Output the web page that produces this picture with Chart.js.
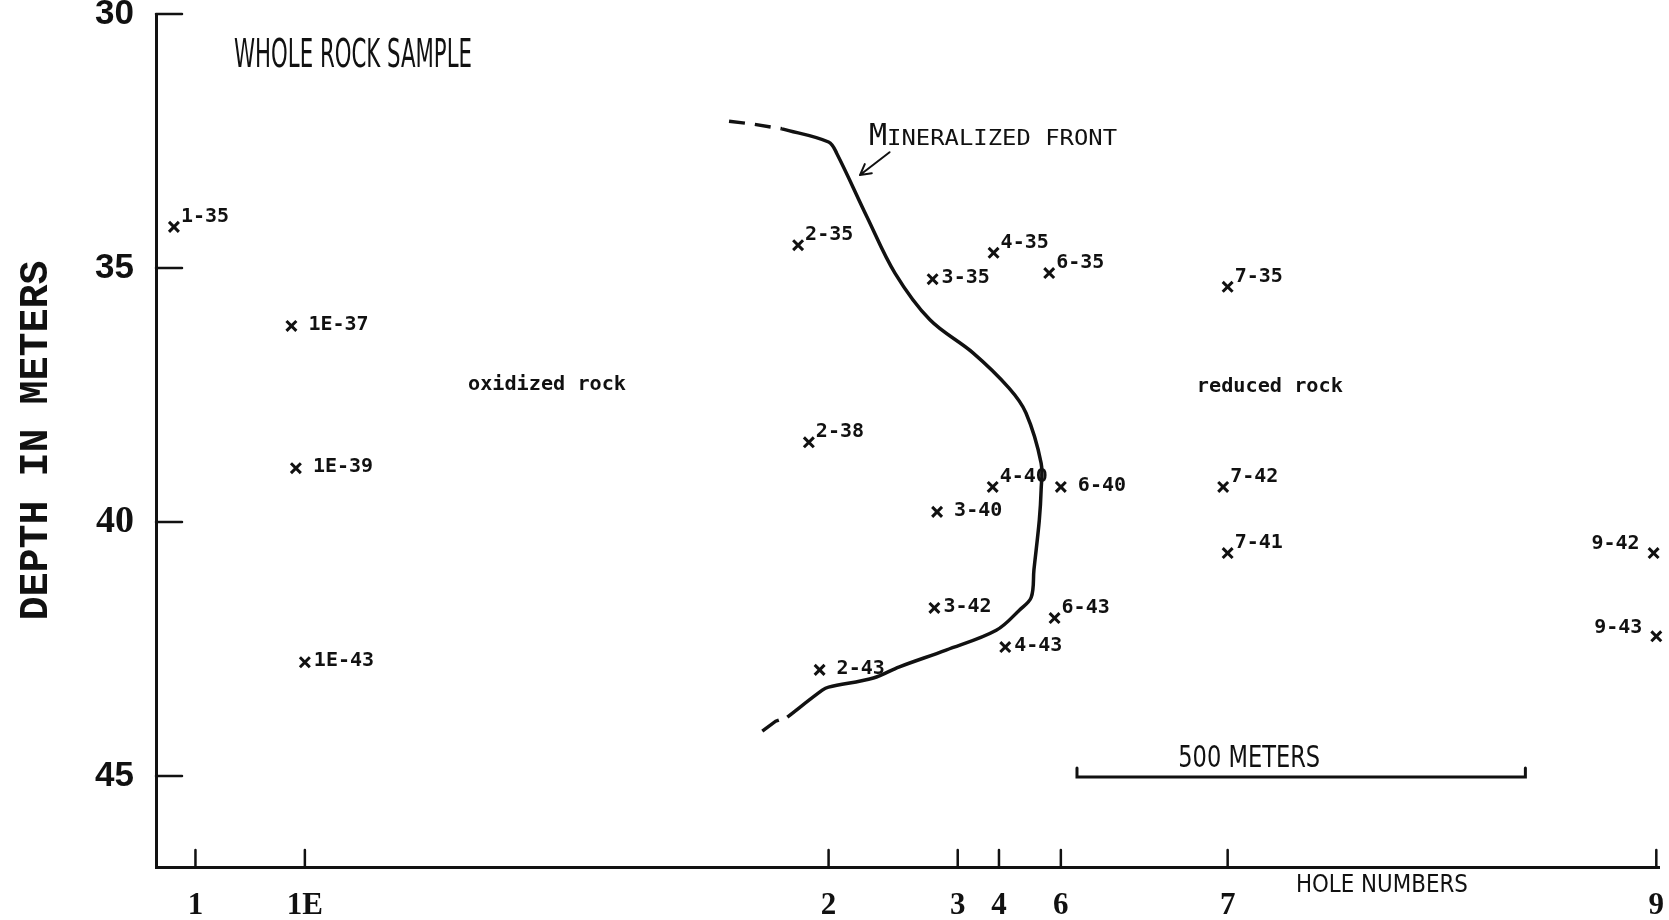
<!DOCTYPE html>
<html>
<head>
<meta charset="utf-8">
<script src="https://cdn.jsdelivr.net/npm/chart.js@4.4.1/dist/chart.umd.min.js"></script>
<style>
  html, body { margin: 0; padding: 0; background: #fff; }
</style>
</head>
<body>
<canvas id="sectionChart" width="1669" height="920"></canvas>
<script>
// hole positions along the section (meters from hole 1)
const holeNames = ['1', '1E', '2', '3', '4', '6', '7', '9'];
const holeDistances = [0, 122, 706, 850, 896, 965, 1151, 1629];
const depthTicks = [30, 35, 40, 45];

// whole rock samples (distance in m, depth in m)
const sampleLabels = ['1-35', '1E-37', '1E-39', '1E-43', '2-35', '2-38', '2-43', '3-35', '3-40', '3-42',
                      '4-35', '4-40', '4-43', '6-35', '6-40', '6-43', '7-35', '7-42', '7-41', '9-42', '9-43'];
const sampleX = [-24, 107, 112, 122, 672, 684, 696, 822, 827, 824,
                 890, 889, 903, 952, 965, 958, 1151, 1146, 1151, 1626, 1629];
const sampleDepth = [34.19, 36.14, 38.94, 42.76, 34.55, 38.43, 42.91, 35.22, 39.80, 41.69,
                     34.70, 39.31, 42.46, 35.10, 39.31, 41.89, 35.37, 39.31, 40.61, 40.61, 42.25];
const labelPlacement = ['sup', 'gap', 'gap', 'right', 'sup', 'sup', 'gap', 'right', 'gap', 'right',
                        'sup', 'sup', 'right', 'sup', 'gap', 'sup', 'sup', 'sup', 'sup', 'left', 'left'];

// mineralized front trace
const frontX = [654, 706, 715, 749, 780, 819, 867, 907, 926, 943, 943, 941, 935, 932, 919, 893, 837, 785, 756, 706, 699, 660];
const frontDepth = [32.26, 32.52, 32.74, 34.00, 35.10, 36.02, 36.67, 37.36, 37.85, 38.84, 39.37, 39.96,
                    40.94, 41.48, 41.73, 42.13, 42.52, 42.85, 43.07, 43.25, 43.31, 43.84];
const frontTopDashX = [595, 623, 654];
const frontTopDashDepth = [32.11, 32.17, 32.26];
const frontBottomDashX = [660, 647, 631];
const frontBottomDashDepth = [43.84, 43.92, 44.13];

// scale bar
const scaleBarStart = 983;
const scaleBarLength = 500;
const scaleBarDepth = 45.02;

const ink = '#111';

function toPoints(xs, ys) {
    return xs.map((x, i) => ({ x: x, y: ys[i] }));
}

// draw text squeezed/stretched to a given width
function fitText(ctx, text, px, py, font, width, align) {
    ctx.save();
    ctx.font = font;
    const w = ctx.measureText(text).width;
    ctx.translate(px, py);
    ctx.scale(width / w, 1);
    ctx.textAlign = align;
    ctx.textBaseline = 'alphabetic';
    ctx.fillText(text, 0, 0);
    ctx.restore();
}

const notesPlugin = {
    id: 'sectionNotes',
    afterDraw(chart) {
        const { ctx, chartArea } = chart;
        const xs = chart.scales.x, ys = chart.scales.y;
        const X = v => xs.getPixelForValue(v);
        const Y = v => ys.getPixelForValue(v);

        ctx.save();
        ctx.fillStyle = ink;
        ctx.strokeStyle = ink;
        ctx.lineCap = 'round';

        // inward tick marks
        ctx.lineWidth = 2.5;
        ctx.beginPath();
        ys.ticks.forEach(t => {
            ctx.moveTo(chartArea.left, Y(t.value));
            ctx.lineTo(chartArea.left + 26, Y(t.value));
        });
        xs.ticks.forEach(t => {
            ctx.moveTo(X(t.value), chartArea.bottom);
            ctx.lineTo(X(t.value), chartArea.bottom - 17);
        });
        ctx.stroke();

        // sample labels
        const meta = chart.getDatasetMeta(3);
        ctx.font = "bold 20px 'DejaVu Sans Mono'";
        ctx.textBaseline = 'middle';
        meta.data.forEach((pt, i) => {
            const mode = labelPlacement[i];
            if (mode === 'left') {
                ctx.textAlign = 'right';
                ctx.fillText(sampleLabels[i], pt.x - 14, pt.y - 9);
            } else if (mode === 'sup') {
                ctx.textAlign = 'left';
                ctx.fillText(sampleLabels[i], pt.x + 7, pt.y - 10);
            } else {
                ctx.textAlign = 'left';
                ctx.fillText(sampleLabels[i], pt.x + (mode === 'gap' ? 17 : 9), pt.y - 1);
            }
        });

        // titles and notes
        fitText(ctx, 'WHOLE ROCK SAMPLE', X(43), Y(31.04), "39px 'DejaVu Sans'", 238, 'left');
        fitText(ctx, 'oxidized rock', X(392), Y(37.26) + 7, "bold 20px 'DejaVu Sans Mono'", 158, 'center');
        fitText(ctx, 'reduced rock', X(1198), Y(37.30) + 7, "bold 20px 'DejaVu Sans Mono'", 146, 'center');
        fitText(ctx, '500 METERS', X(1175), Y(44.82), "30px 'DejaVu Sans'", 142, 'center');
        fitText(ctx, 'HOLE NUMBERS', X(1323), Y(47.28), "24px 'DejaVu Sans'", 172, 'center');

        // MINERALIZED FRONT in small caps
        const mx = X(751), my = Y(32.58);
        ctx.textAlign = 'left';
        ctx.textBaseline = 'alphabetic';
        ctx.font = "30px 'DejaVu Sans Mono'";
        ctx.fillText('M', mx, my);
        const mw = ctx.measureText('M').width;
        fitText(ctx, 'INERALIZED FRONT', mx + mw, my, "22px 'DejaVu Sans Mono'", 230, 'left');

        // arrow to the front
        const ax0 = X(774), ay0 = Y(32.72), ax1 = X(741), ay1 = Y(33.17);
        const ang = Math.atan2(ay1 - ay0, ax1 - ax0);
        ctx.lineWidth = 2;
        ctx.beginPath();
        ctx.moveTo(ax0, ay0);
        ctx.lineTo(ax1, ay1);
        ctx.moveTo(ax1, ay1);
        ctx.lineTo(ax1 - 12 * Math.cos(ang - 0.5), ay1 - 12 * Math.sin(ang - 0.5));
        ctx.moveTo(ax1, ay1);
        ctx.lineTo(ax1 - 12 * Math.cos(ang + 0.5), ay1 - 12 * Math.sin(ang + 0.5));
        ctx.stroke();

        // 500 m scale bar
        const bx0 = X(scaleBarStart), bx1 = X(scaleBarStart + scaleBarLength), by = Y(scaleBarDepth);
        ctx.lineWidth = 3;
        ctx.beginPath();
        ctx.moveTo(bx0, by - 9);
        ctx.lineTo(bx0, by);
        ctx.lineTo(bx1, by);
        ctx.lineTo(bx1, by - 9);
        ctx.stroke();

        ctx.restore();
    }
};

const ctx = document.getElementById('sectionChart').getContext('2d');
new Chart(ctx, {
    type: 'scatter',
    data: {
        datasets: [
            {
                label: 'Mineralized front',
                type: 'line',
                data: toPoints(frontX, frontDepth),
                borderColor: ink,
                borderWidth: 3.5,
                pointRadius: 0,
                tension: 0.35,
                fill: false
            },
            {
                label: 'front (inferred, top)',
                type: 'line',
                data: toPoints(frontTopDashX, frontTopDashDepth),
                borderColor: ink,
                borderWidth: 3.5,
                borderDash: [16, 10],
                pointRadius: 0,
                fill: false
            },
            {
                label: 'front (inferred, bottom)',
                type: 'line',
                data: toPoints(frontBottomDashX, frontBottomDashDepth),
                borderColor: ink,
                borderWidth: 3.5,
                borderDash: [20, 9],
                borderDashOffset: 20,
                pointRadius: 0,
                fill: false
            },
            {
                label: 'Whole rock sample',
                data: toPoints(sampleX, sampleDepth),
                pointStyle: 'crossRot',
                pointRadius: 7,
                borderColor: ink,
                borderWidth: 3,
                clip: false
            }
        ]
    },
    options: {
        responsive: false,
        animation: false,
        devicePixelRatio: 1,
        layout: { padding: { top: 14, right: 4, left: 0, bottom: 0 } },
        plugins: {
            legend: { display: false },
            tooltip: { enabled: false }
        },
        scales: {
            x: {
                type: 'linear',
                min: -44,
                max: 1632,
                grid: { display: false, drawTicks: false },
                border: { display: true, color: ink, width: 3 },
                afterBuildTicks: s => { s.ticks = holeDistances.map(v => ({ value: v })); },
                afterFit: s => { s.height = 53; s.paddingLeft = 0; s.paddingRight = 0; },
                ticks: {
                    autoSkip: false,
                    maxRotation: 0,
                    padding: 20,
                    color: ink,
                    font: { family: "'Liberation Serif'", size: 31, weight: 'bold' },
                    callback: v => holeNames[holeDistances.indexOf(v)]
                }
            },
            y: {
                type: 'linear',
                reverse: true,
                min: 30,
                max: 46.79,
                grid: { display: false, drawTicks: false },
                border: { display: true, color: ink, width: 3 },
                afterBuildTicks: s => { s.ticks = depthTicks.map(v => ({ value: v })); },
                afterFit: s => { s.width = 156; s.paddingTop = 0; s.paddingBottom = 0; },
                title: {
                    display: true,
                    text: 'DEPTH IN METERS',
                    color: ink,
                    padding: { top: 13, bottom: 0 },
                    font: { family: "'Liberation Mono'", size: 40, weight: 'bold' }
                },
                ticks: {
                    padding: 22,
                    color: ink,
                    font: c => (c.tick && c.tick.value === 40)
                        ? { family: "'Liberation Serif'", size: 38, weight: 'bold' }
                        : { family: "'Liberation Sans'", size: 35, weight: 'bold' }
                }
            }
        }
    },
    plugins: [notesPlugin]
});
</script>
</body>
</html>
